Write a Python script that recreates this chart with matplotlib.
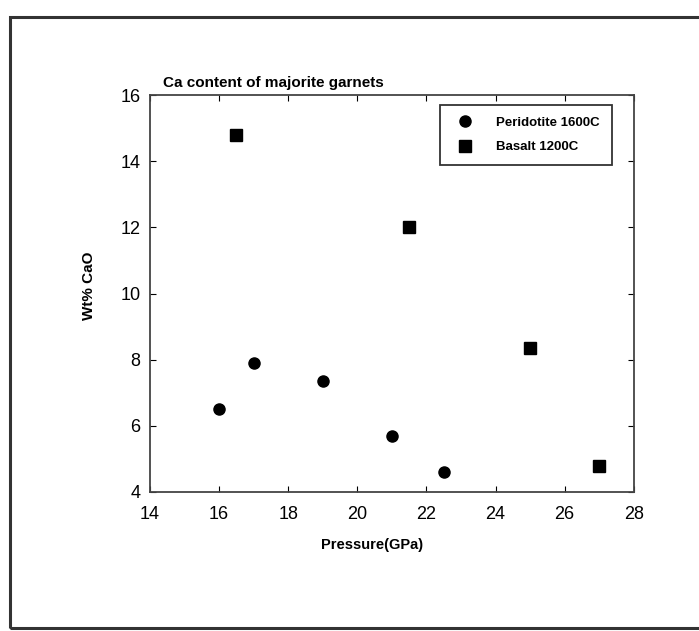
import matplotlib.pyplot as plt
from matplotlib.patches import Rectangle

# Peridotite 1600C
p_perid = [16, 17, 19, 21, 22.5]
ca_perid = [6.5, 7.9, 7.35, 5.7, 4.6]

# Basalt 1200C
p_basalt = [16.5, 21.5, 25, 27]
ca_basalt = [14.8, 12.0, 8.35, 4.8]

xticks = [14, 16, 18, 20, 22, 24, 26, 28]
yticks = [4, 6, 8, 10, 12, 14, 16]

plt.rcParams['font.family'] = ['Liberation Sans', 'DejaVu Sans']

fig = plt.figure(figsize=(6.99, 6.31), dpi=100)

# frame around the whole picture (scanned page look)
fig.patches.append(Rectangle((0.0143, 0.005), 1.2, 0.968, transform=fig.transFigure,
                             fill=False, edgecolor='#333333', linewidth=2.2))

ax = fig.add_axes([0.2146, 0.2203, 0.692, 0.6291])
ax.plot(p_perid, ca_perid, 'o', color='black', markersize=8, label='Peridotite 1600C')
ax.plot(p_basalt, ca_basalt, 's', color='black', markersize=8, label='Basalt 1200C')

ax.set_xlim(14, 28)
ax.set_ylim(4, 16)
ax.set_xticks(xticks)
ax.set_yticks(yticks)
ax.tick_params(direction='in', top=True, right=True, length=4, labelsize=13)
ax.tick_params(axis='x', pad=10)
ax.tick_params(axis='y', pad=7)
for s in ax.spines.values():
    s.set_linewidth(1.3)
    s.set_color('#444444')

ax.set_xlabel('Pressure(GPa)', fontsize=10.5, fontweight='bold')
ax.xaxis.set_label_coords(0.459, -0.116)
ax.set_ylabel('Wt% CaO', fontsize=11, fontweight='bold')
ax.yaxis.set_label_coords(-0.112, 0.519)
ax.set_title('Ca content of majorite garnets', fontsize=11, fontweight='bold',
             loc='left', x=0.027, pad=6)

leg = ax.legend(loc='upper right', bbox_to_anchor=(0.955, 0.975),
                prop={'size': 9.5, 'weight': 'bold'},
                frameon=True, fancybox=False, edgecolor='black', borderpad=0.9,
                labelspacing=0.9, handletextpad=1.4, borderaxespad=0)
leg.get_frame().set_linewidth(1.3)

fig.savefig('out.png', dpi=100)
